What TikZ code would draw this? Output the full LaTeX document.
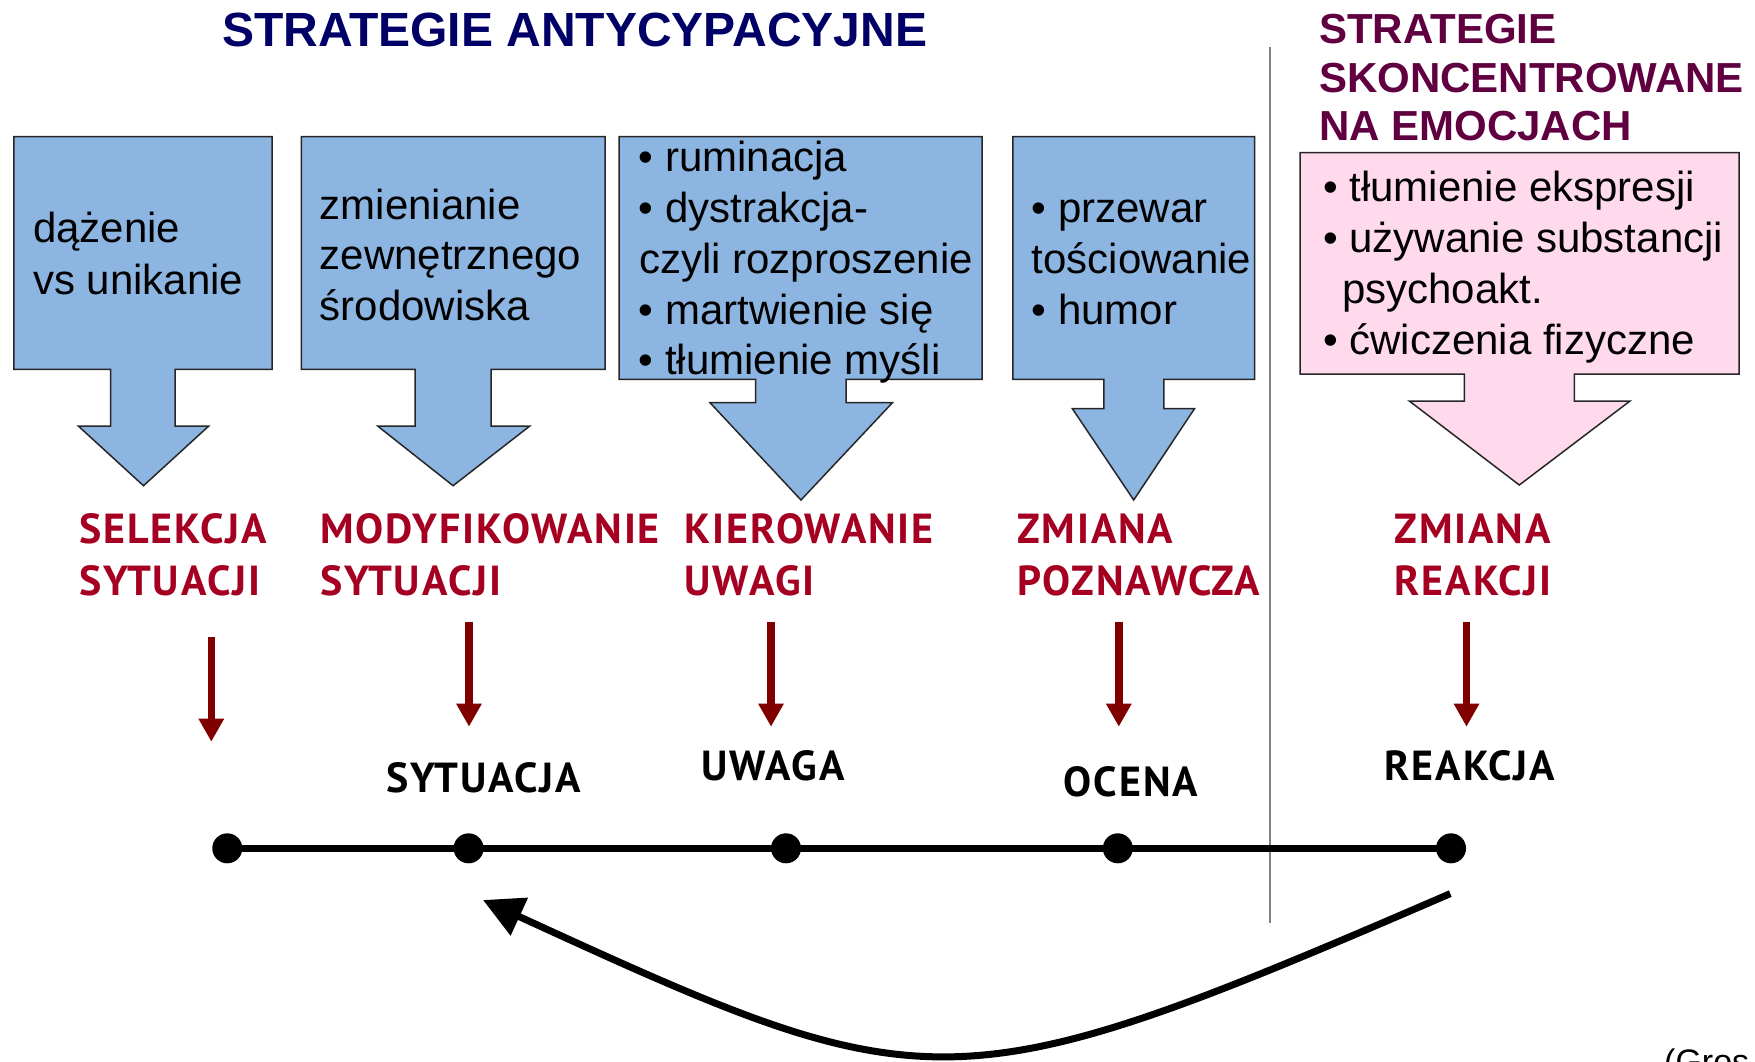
\documentclass[tikz,border=0pt]{standalone}
\usepackage{fontspec}
\setmainfont{Liberation Sans}
\newfontfamily\labfont{PT Sans}[LetterSpace=4.5]
\usetikzlibrary{arrows.meta}
\definecolor{navytitle}{RGB}{0,0,102}
\definecolor{purpletitle}{RGB}{96,0,64}
\definecolor{boxblue}{RGB}{141,181,226}
\definecolor{boxpink}{RGB}{255,218,236}
\definecolor{labred}{RGB}{165,0,33}
\definecolor{arrred}{RGB}{128,0,0}
\tikzset{
  blockarrow/.style={draw=black!85, line width=1.5pt, line join=miter},
  boxtext/.style={inner sep=0pt, anchor=base west, font=\fontsize{42}{50}\selectfont},
  redlab/.style={inner sep=0pt, anchor=base west, text=labred, font=\labfont\bfseries\fontsize{42}{50}\selectfont},
  blacklab/.style={inner sep=0pt, anchor=base, text=black, font=\labfont\bfseries\fontsize{42}{50}\selectfont},
  redarrow/.style={draw=arrred, line width=7.5pt, -{Triangle[length=23pt,width=24pt]}},
  dot/.style={circle, fill=black, inner sep=0pt, minimum size=30pt},
}
\begin{document}
\begin{tikzpicture}[x=1pt,y=-1pt]
\useasboundingbox (0,0) rectangle (1755,1061);

% titles
\node[inner sep=0pt, anchor=base west, text=navytitle, font=\bfseries\fontsize{48}{56}\selectfont] (t1) at (222,46) {STRATEGIE ANTYCYPACYJNE};
\node[inner sep=0pt, anchor=base west, text=purpletitle, font=\bfseries\fontsize{42}{49}\selectfont] (t2a) at (1319,43.3) {STRATEGIE};
\node[inner sep=0pt, anchor=base west, text=purpletitle, font=\bfseries\fontsize{42}{49}\selectfont] (t2b) at (1319,92.3) {SKONCENTROWANE};
\node[inner sep=0pt, anchor=base west, text=purpletitle, font=\bfseries\fontsize{42}{49}\selectfont] (t2c) at (1319,140.7) {NA EMOCJACH};

% separator
\draw[draw=black!50, line width=2pt] (1270,46.7) -- (1270,923.4);

% block arrows
\draw[blockarrow, fill=boxblue] (13.8,136.7) -- (272,136.7) -- (272,369.3) -- (175.2,369.3) -- (175.2,426) -- (208.8,426) -- (143.5,485.7) -- (78.3,426) -- (110.7,426) -- (110.7,369.3) -- (13.8,369.3) -- cycle;
\draw[blockarrow, fill=boxblue] (301.3,136.7) -- (605,136.7) -- (605,369.3) -- (491.1,369.3) -- (491.1,426) -- (529.8,426) -- (453.1,485.7) -- (377.6,426) -- (415.2,426) -- (415.2,369.3) -- (301.3,369.3) -- cycle;
\draw[blockarrow, fill=boxblue] (619,136.7) -- (982.2,136.7) -- (982.2,379.3) -- (846,379.3) -- (846,402.7) -- (892.4,402.7) -- (801,500) -- (710,402.7) -- (755.7,402.7) -- (755.7,379.3) -- (619,379.3) -- cycle;
\draw[blockarrow, fill=boxblue] (1012.9,136.7) -- (1254.6,136.7) -- (1254.6,379.3) -- (1163.9,379.3) -- (1163.9,408.7) -- (1194.5,408.7) -- (1133.7,500) -- (1072.4,408.7) -- (1103.9,408.7) -- (1103.9,379.3) -- (1012.9,379.3) -- cycle;
\draw[blockarrow, fill=boxpink] (1300,152.7) -- (1739,152.7) -- (1739,374) -- (1574.3,374) -- (1574.3,401) -- (1630,401) -- (1519.3,485) -- (1409.3,401) -- (1464.3,401) -- (1464.3,374) -- (1300,374) -- cycle;

% box texts
\node[boxtext] (b1a) at (33,242.7) {dążenie};
\node[boxtext] (b1b) at (33,294) {vs unikanie};
\node[boxtext] (b2a) at (319.5,219) {zmienianie};
\node[boxtext] (b2b) at (319.5,269.5) {zewnętrznego};
\node[boxtext] (b2c) at (319.5,320) {środowiska};
\node[boxtext] (b3a) at (638.5,171.7) {• ruminacja};
\node[boxtext] (b3b) at (638.5,222.5) {• dystrakcja-};
\node[boxtext] (b3c) at (639,273.3) {czyli rozproszenie};
\node[boxtext] (b3d) at (638.5,324.1) {• martwienie się};
\node[boxtext] (b3e) at (638.5,374.9) {• tłumienie myśli};
\node[boxtext] (b4a) at (1031.5,222.5) {• przewar};
\node[boxtext] (b4b) at (1031.5,273.3) {tościowanie};
\node[boxtext] (b4c) at (1031.5,324.1) {• humor};
\node[boxtext] (b5a) at (1323,201.7) {• tłumienie ekspresji};
\node[boxtext] (b5b) at (1323,252.5) {• używanie substancji};
\node[boxtext] (b5c) at (1342,303.3) {psychoakt.};
\node[boxtext] (b5d) at (1323,354.1) {• ćwiczenia fizyczne};

% red labels
\node[redlab] (l1a) at (79,543.5) {SELEKCJA};
\node[redlab] (l1b) at (79,595) {SYTUACJI};
\node[redlab] (l2a) at (320,543.5) {MODYFIKOWANIE};
\node[redlab] (l2b) at (320,595) {SYTUACJI};
\node[redlab] (l3a) at (684.5,543.5) {KIEROWANIE};
\node[redlab] (l3b) at (684.5,595) {UWAGI};
\node[redlab] (l4a) at (1017,543.5) {ZMIANA};
\node[redlab] (l4b) at (1017,595) {POZNAWCZA};
\node[redlab] (l5a) at (1394.5,543.5) {ZMIANA};
\node[redlab] (l5b) at (1394.5,595) {REAKCJI};

% black labels
\node[blacklab] (s2) at (484,792.7) {SYTUACJA};
\node[blacklab] (s3) at (773,780) {UWAGA};
\node[blacklab] (s4) at (1131,796) {OCENA};
\node[blacklab] (s5) at (1470,780) {REAKCJA};

% red arrows
\coordinate (a1s) at (211.3,636.7); \coordinate (a1e) at (211.3,741.7);
\coordinate (a2s) at (469,621.7);   \coordinate (a2e) at (469,726.7);
\coordinate (a3s) at (771,621.7);   \coordinate (a3e) at (771,726.7);
\coordinate (a4s) at (1118.8,621.7);\coordinate (a4e) at (1118.8,726.7);
\coordinate (a5s) at (1466.5,621.7);\coordinate (a5e) at (1466.5,726.7);
\draw[redarrow] (a1s) -- (a1e);
\draw[redarrow] (a2s) -- (a2e);
\draw[redarrow] (a3s) -- (a3e);
\draw[redarrow] (a4s) -- (a4e);
\draw[redarrow] (a5s) -- (a5e);

% timeline
\node[dot] (d1) at (227.3,848.3) {};
\node[dot] (d2) at (468.6,848.3) {};
\node[dot] (d3) at (786,848.3) {};
\node[dot] (d4) at (1117.8,848.3) {};
\node[dot] (d5) at (1451,848.3) {};
\draw[line width=7pt] (d1.center) -- (d2.center) -- (d3.center) -- (d4.center) -- (d5.center);

% feedback curve
\coordinate (cs) at (1450.3,893.6);
\coordinate (ce) at (483,900);
\draw[line width=7pt, -{Triangle[length=40pt,width=40pt]}] (cs) .. controls (950,1110) and (930,1105) .. (ce);

% citation (cut off at the page edge, as in the reference)
\begin{scope}
\clip (0,0) rectangle (1755,1061);
\node[inner sep=0pt, anchor=base west, font=\fontsize{34}{40}\selectfont] (cit) at (1664,1073) {(Gros};
\end{scope}
\end{tikzpicture}
\end{document}
